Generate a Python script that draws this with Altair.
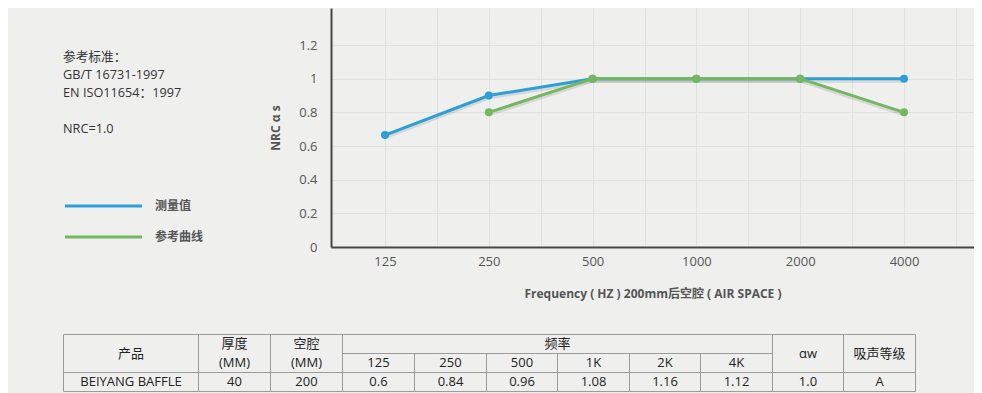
import altair as alt
import pandas as pd

# ---------------- data ----------------
FREQS = [125, 250, 500, 1000, 2000, 4000]
SERIES = ["测量值", "参考曲线"]
MEASURED = [0.665, 0.9, 1.0, 1.0, 1.0, 1.0]
REFERENCE = [None, 0.8, 1.0, 1.0, 1.0, 0.8]
COLORS = ["#2c9fd9", "#73b85f"]

INFO_LINES = ["参考标准：", "GB/T 16731-1997", "EN ISO11654：1997", "", "NRC=1.0"]

TABLE_HEAD = ["产品", "厚度\n(MM)", "空腔\n(MM)"]
TABLE_GROUP = "频率"
TABLE_BANDS = ["125", "250", "500", "1K", "2K", "4K"]
TABLE_TAIL = ["αw", "吸声等级"]
ROW_PRODUCT = "BEIYANG BAFFLE"
ROW_THICK = "40"
ROW_CAVITY = "200"
ROW_COEF = ["0.6", "0.84", "0.96", "1.08", "1.16", "1.12"]
ROW_AW = "1.0"
ROW_GRADE = "A"

# ---------------- layout ----------------
W, H = 643, 239
PAD = {"left": 323, "top": 0, "right": 0, "bottom": 146}
X_DOMAIN = [87.15, 6384]
Y_DOMAIN = [0, 1.42]
Y_TICKS = [0, 0.2, 0.4, 0.6, 0.8, 1.0, 1.2]
GRID_X = [125 * 2 ** (k / 2) for k in range(0, 12)]
FONT = "Open Sans, Noto Sans CJK SC"
COL_W = [135, 72, 72, 72, 72, 71, 72, 71, 72, 71, 72]
TABLE_X = [-267.5, -267.5 + sum(COL_W)]
TABLE_Y = [326.5, 383.5]
INFO_Y = [49, 121]

rows = []
for s, vals in zip(SERIES, [MEASURED, REFERENCE]):
    for f, v in zip(FREQS, vals):
        if v is not None:
            rows.append({"series": s, "freq": f, "nrc": v})
df = pd.DataFrame(rows)

color_enc = alt.Color("series:N", scale=alt.Scale(domain=SERIES, range=COLORS), legend=None)

label_expr = ("indexof([" + ",".join(str(f) for f in FREQS) + "], datum.value) >= 0 ? "
              "format(datum.value, 'd') : ''")

x_enc = alt.X(
    "freq:Q",
    scale=alt.Scale(type="log", base=2, domain=X_DOMAIN, nice=False),
    axis=alt.Axis(values=GRID_X, labelExpr=label_expr, labelOverlap=False, labelFlush=False,
                  labelPadding=8, titlePadding=20,
                  title="Frequency ( HZ ) 200mm后空腔 ( AIR SPACE )"),
)
y_enc = alt.Y(
    "nrc:Q",
    scale=alt.Scale(domain=Y_DOMAIN, nice=False, zero=False),
    axis=alt.Axis(values=Y_TICKS, format="~g", labelPadding=14, titlePadding=16,
                  title="NRC α s"),
)

shadow = alt.Chart(df).mark_line(color="#000000", opacity=0.10, strokeWidth=4, yOffset=2).encode(
    x=x_enc, y=y_enc, detail="series:N")

series_layers = []
for s in SERIES:
    sub = df[df["series"] == s]
    series_layers.append(alt.Chart(sub).mark_line(strokeWidth=3).encode(x=x_enc, y=y_enc, color=color_enc))
    series_layers.append(alt.Chart(sub).mark_circle(size=64, opacity=1).encode(x=x_enc, y=y_enc, color=color_enc))

main = alt.layer(shadow, *series_layers)

# legend
leg_df = pd.DataFrame({"series": SERIES})
leg_y = alt.Y("series:N", scale=alt.Scale(type="point", domain=SERIES, range=[198, 229], padding=0), axis=None)
leg_rule = alt.Chart(leg_df).mark_rule(strokeWidth=3).encode(
    x=alt.value(-266), x2=alt.value(-189), y=leg_y, color=color_enc)
leg_text = alt.Chart(leg_df).mark_text(align="left", baseline="middle", font=FONT, fontSize=12,
                                       fontWeight="bold", color="#555555").encode(
    x=alt.value(-176), y=leg_y, text="series:N")

# info text, one row per line
info_df = pd.DataFrame({"idx": list(range(len(INFO_LINES))), "text": INFO_LINES})
info = alt.Chart(info_df).mark_text(align="left", baseline="middle",
                                    font=FONT, fontSize=12.7, color="#333333").encode(
    x=alt.value(-268),
    y=alt.Y("idx:O", scale=alt.Scale(type="point", domain=list(range(len(INFO_LINES))),
                                     range=INFO_Y, padding=0), axis=None),
    text="text:N")

# table
edges = [0]
for w in COL_W:
    edges.append(edges[-1] + w)
cells = []


def add(c0, c1, r0, r1, text):
    n = text.count("\n") + 1
    cells.append({"x0": edges[c0], "x1": edges[c1], "y0": r0, "y1": r1,
                  "xm": (edges[c0] + edges[c1]) / 2, "ym": (r0 + r1) / 2 - (n - 1) / 2,
                  "text": text})


for i, t in enumerate(TABLE_HEAD):
    add(i, i + 1, 0, 2, t)
add(3, 9, 0, 1, TABLE_GROUP)
for j, t in enumerate(TABLE_BANDS):
    add(3 + j, 4 + j, 1, 2, t)
for k, t in enumerate(TABLE_TAIL):
    add(9 + k, 10 + k, 0, 2, t)
row_vals = [ROW_PRODUCT, ROW_THICK, ROW_CAVITY] + ROW_COEF + [ROW_AW, ROW_GRADE]
for i, t in enumerate(row_vals):
    add(i, i + 1, 2, 3, t)
cells_df = pd.DataFrame(cells)

tx = alt.Scale(domain=[0, edges[-1]], range=TABLE_X, nice=False, zero=False)
ty = alt.Scale(domain=[0, 3], range=TABLE_Y, nice=False, zero=False)

table_rect = alt.Chart(cells_df).mark_rect(fill=None, stroke="#9b9b9b", strokeWidth=1).encode(
    x=alt.X("x0:Q", scale=tx, axis=None), x2="x1:Q",
    y=alt.Y("y0:Q", scale=ty, axis=None), y2="y1:Q")
table_text = alt.Chart(cells_df).mark_text(align="center", baseline="middle", lineBreak="\n",
                                           lineHeight=19, font=FONT, fontSize=13,
                                           color="#222222").encode(
    x=alt.X("xm:Q", scale=tx, axis=None),
    y=alt.Y("ym:Q", scale=ty, axis=None), text="text:N")

chart = alt.layer(main, leg_rule, leg_text, info, table_rect, table_text).resolve_scale(
    x="independent", y="independent"
).properties(
    width=W, height=H, padding=PAD, autosize=alt.AutoSizeParams(type="none"),
    background="#eff0ee",
).configure_view(strokeWidth=0).configure_axis(
    domainColor="#454545", domainWidth=2, gridColor="#e1e2df", gridWidth=1, ticks=False,
    labelFont=FONT, labelFontSize=13, labelColor="#555555",
    titleFont=FONT, titleFontSize=12, titleFontWeight="bold", titleColor="#555555",
)

chart.save("out.html", embed_options={"renderer": "svg", "actions": False})
